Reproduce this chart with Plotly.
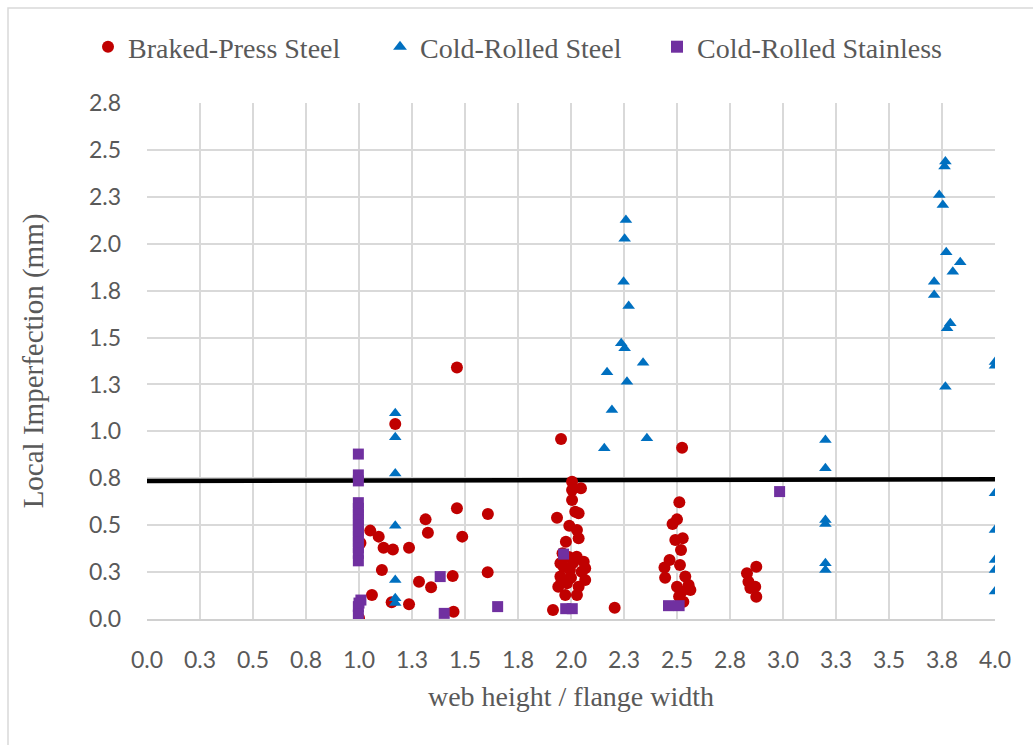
import plotly.graph_objects as go

# Braked-press steel sections: ratio vs local imperfection (mm)
braked_x = [1.462, 1.171, 1.007, 1.0, 1.053, 1.093, 1.116, 1.160, 1.236, 1.314,
            1.325, 1.462, 1.487, 1.608, 1.108, 1.283, 1.340, 1.442, 1.607, 1.061,
            1.154, 1.236, 1.446, 1.953, 2.524,
            2.005, 2.005, 2.047, 2.005, 2.020, 2.036, 1.934, 1.992, 2.028, 2.036,
            1.976, 1.950, 2.027, 2.060, 1.995, 2.050, 1.950, 2.067, 1.940, 1.981,
            2.036, 2.028, 1.973, 1.965, 2.067, 1.915, 2.206, 1.990, 2.000, 1.960,
            1.955, 2.010,
            2.511, 2.500, 2.479, 2.492, 2.527, 2.519, 2.465, 2.441, 2.514, 2.444,
            2.539, 2.500, 2.555, 2.522, 2.563, 2.530, 2.510,
            2.874, 2.830, 2.837, 2.869, 2.874, 2.846]
braked_y = [1.340, 1.039, 0.405, 0.005, 0.471, 0.439, 0.380, 0.371, 0.380, 0.531,
            0.460, 0.590, 0.439, 0.560, 0.261, 0.199, 0.169, 0.229, 0.249, 0.128,
            0.089, 0.078, 0.039, 0.959, 0.913,
            0.732, 0.688, 0.697, 0.634, 0.572, 0.563, 0.540, 0.497, 0.474, 0.430,
            0.412, 0.297, 0.332, 0.305, 0.261, 0.252, 0.226, 0.208, 0.172, 0.190,
            0.172, 0.128, 0.128, 0.279, 0.270, 0.048, 0.060, 0.330, 0.220, 0.350,
            0.200, 0.300,
            0.622, 0.531, 0.506, 0.421, 0.430, 0.368, 0.314, 0.274, 0.288, 0.220,
            0.226, 0.172, 0.181, 0.146, 0.155, 0.092, 0.120,
            0.279, 0.244, 0.199, 0.172, 0.119, 0.165]

# Cold-rolled steel sections
cold_x = [1.171, 1.171, 1.171, 1.171, 1.171, 1.171, 1.171,
          2.259, 2.253, 2.248, 2.272, 2.237, 2.253, 2.340, 2.170, 2.264, 2.193,
          2.358, 2.157,
          3.200, 3.200, 3.200, 3.200, 3.200, 3.200,
          3.766, 3.762, 3.737, 3.754, 3.770, 3.836, 3.801, 3.713, 3.713, 3.789,
          3.774, 4.000, 4.000, 3.766,
          4.000, 4.000, 4.000, 4.000, 4.000]
cold_y = [1.096, 0.968, 0.776, 0.497, 0.208, 0.110, 0.085,
          2.127, 2.026, 1.798, 1.668, 1.470, 1.443, 1.366, 1.315, 1.265, 1.114,
          0.963, 0.910,
          0.954, 0.803, 0.528, 0.506, 0.297, 0.261,
          2.438, 2.411, 2.260, 2.207, 1.955, 1.901, 1.851, 1.798, 1.727, 1.576,
          1.549, 1.370, 1.350, 1.238,
          0.670, 0.474, 0.314, 0.261, 0.146]

# Cold-rolled stainless sections
stainless_x = [0.997, 0.997, 0.997, 0.997, 0.997, 0.997, 0.997, 0.997, 0.997,
               0.997, 0.997, 0.997, 0.997, 0.997, 1.009, 0.997, 0.997, 1.000,
               1.383, 1.402, 1.654, 1.965, 1.975, 2.006, 2.460, 2.510, 2.984]
stainless_y = [0.879, 0.768, 0.736, 0.620, 0.590, 0.560, 0.530, 0.500, 0.470,
               0.440, 0.410, 0.380, 0.350, 0.310, 0.101, 0.066, 0.021, 0.085,
               0.226, 0.030, 0.066, 0.346, 0.055, 0.055, 0.071, 0.071, 0.679]

# Reference limit line
limit_x = [0.0, 4.0]
limit_y = [0.735, 0.745]

tick_vals = [0.0, 0.25, 0.5, 0.75, 1.0, 1.25, 1.5, 1.75, 2.0, 2.25, 2.5, 2.75,
             3.0, 3.25, 3.5, 3.75, 4.0]
x_tick_text = ["0.0", "0.3", "0.5", "0.8", "1.0", "1.3", "1.5", "1.8", "2.0",
               "2.3", "2.5", "2.8", "3.0", "3.3", "3.5", "3.8", "4.0"]
y_tick_vals = tick_vals[:12]
y_tick_text = ["0.0", "0.3", "0.5", "0.8", "1.0", "1.3", "1.5", "1.8", "2.0",
               "2.3", "2.5", "2.8"]

TEXT = "#595959"
GRID = "#D9D9D9"
SERIF = "Liberation Serif, Times New Roman, serif"
SANS = "Lato, Open Sans, sans-serif"

fig = go.Figure()
fig.add_trace(go.Scatter(
    x=limit_x, y=limit_y, mode="lines", showlegend=False, hoverinfo="skip",
    line=dict(color="black", width=4.5)))
fig.add_trace(go.Scatter(
    x=braked_x, y=braked_y, mode="markers", name="Braked-Press Steel",
    legend="legend",
    marker=dict(symbol="circle", size=12, color="#C00000")))
fig.add_trace(go.Scatter(
    x=cold_x, y=cold_y, mode="markers", name="Cold-Rolled Steel",
    legend="legend2",
    marker=dict(symbol="triangle-up", size=11, color="#0070C0")))
fig.add_trace(go.Scatter(
    x=stainless_x, y=stainless_y, mode="markers", name="Cold-Rolled Stainless",
    legend="legend3",
    marker=dict(symbol="square", size=11, color="#7030A0")))

# Light chart-area border
L, R, T, B = 147, 38, 103, 126
W, H = 1033, 745
pw, ph = W - L - R, H - T - B
fig.add_shape(type="rect", xref="paper", yref="paper",
              x0=(8 - L) / pw, x1=(W + 10 - L) / pw,
              y0=(H - B - (H + 10)) / ph, y1=(H - B - 8) / ph,
              line=dict(color="#D9D9D9", width=1.5), fillcolor="rgba(0,0,0,0)",
              layer="below")


def legend_box(text_left):
    # one single-entry legend, text starting near text_left (px)
    return dict(orientation="h", xref="container", yref="container",
                x=(text_left - 40) / W, y=1 - 47 / H,
                xanchor="left", yanchor="middle",
                font=dict(family=SERIF, size=28, color=TEXT),
                itemsizing="constant", itemwidth=30,
                bgcolor="rgba(0,0,0,0)")


fig.update_layout(
    width=W, height=H,
    margin=dict(l=L, r=R, t=T, b=B, autoexpand=False),
    paper_bgcolor="white", plot_bgcolor="white",
    legend=legend_box(128),
    legend2=legend_box(420),
    legend3=legend_box(697),
    xaxis=dict(range=[0, 4], tickvals=tick_vals, ticktext=x_tick_text,
               showgrid=True, gridcolor=GRID, gridwidth=1.5,
               showline=True, linecolor="#D0D0D0", linewidth=1.5,
               zeroline=False, ticks="", ticklabelstandoff=20,
               tickfont=dict(family=SANS, size=23, color=TEXT),
               title=dict(text="web height / flange width", standoff=14,
                          font=dict(family=SERIF, size=28, color=TEXT))),
    yaxis=dict(range=[0, 2.75], tickvals=y_tick_vals, ticktext=y_tick_text,
               showgrid=True, gridcolor=GRID, gridwidth=1.5,
               showline=False, zeroline=False, ticks="", ticklabelstandoff=25,
               tickfont=dict(family=SANS, size=23, color=TEXT),
               title=dict(text="Local Imperfection (mm)", standoff=36,
                          font=dict(family=SERIF, size=29, color=TEXT))),
)

fig.write_html("out.html")
